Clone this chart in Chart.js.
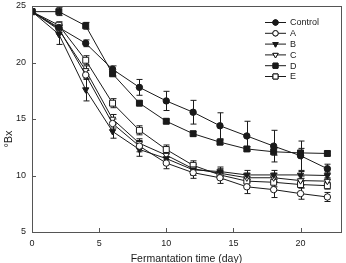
<!DOCTYPE html>
<html>
<head>
<meta charset="utf-8">
<script src="https://cdn.jsdelivr.net/npm/chart.js@4.4.0/dist/chart.umd.min.js"></script>
<style>
    html, body { margin: 0; padding: 0; background: #fff; }
    #wrap { width: 346px; height: 263px; }
</style>
</head>
<body>
<div id="wrap"><canvas id="brixChart" width="346" height="263"></canvas></div>
<script>
// Sampling days
const days = [0, 2, 4, 6, 8, 10, 12, 14, 16, 18, 20, 22];

// Mean °Bx per treatment
const control = [24.5, 23.1, 21.7, 19.4, 17.8, 16.6, 15.6, 14.4, 13.5, 12.6, 11.75, 10.6];
const seriesA = [24.5, 23.0, 18.9, 14.6, 12.6, 11.1, 10.25, 9.8, 9.0, 8.75, 8.4, 8.1];
const seriesB = [24.5, 22.5, 17.6, 13.9, 12.3, 11.5, 10.5, 10.35, 10.05, 10.05, 10.05, 10.0];
const seriesC = [24.5, 22.9, 19.3, 15.0, 12.85, 11.8, 10.6, 10.2, 9.8, 9.8, 9.55, 9.5];
const seriesD = [24.5, 24.5, 23.25, 19.0, 16.4, 14.8, 13.7, 12.95, 12.35, 12.1, 12.0, 11.95];
const seriesE = [24.5, 23.3, 20.2, 16.4, 14.0, 12.3, 10.9, 10.05, 9.5, 9.4, 9.2, 9.1];

// Error bar half-heights (± SD)
const controlErr = [0, 0.2, 0.3, 0.3, 0.7, 0.85, 1.05, 1.15, 1.3, 1.4, 1.3, 0.4];
const errA = [0, 0.3, 0.4, 0.4, 0.5, 0.5, 0.5, 0.5, 0.6, 0.7, 0.5, 0.4];
const errB = [0, 0.9, 1.0, 0.6, 0.6, 0.5, 0.5, 0.4, 0.4, 0.4, 0.3, 0.3];
const errC = [0, 0.4, 0.4, 0.4, 0.4, 0.4, 0.4, 0.4, 0.4, 0.4, 0.4, 0.3];
const errD = [0, 0.35, 0.3, 0.2, 0.2, 0.2, 0.2, 0.2, 0.2, 0.3, 0.4, 0.2];
const errE = [0, 0.3, 0.4, 0.4, 0.4, 0.4, 0.4, 0.4, 0.4, 0.4, 0.3, 0.3];

// Axis ticks
const xTicks = [0, 5, 10, 15, 20];
const yTicks = [5, 10, 15, 20, 25];

const INK = '#1a1a1a';
const FONT = '"Liberation Sans", Arial, sans-serif';

function makeSet(label, values, errors, style, filled, radius, rotation) {
    return {
        label,
        data: values.map((v, i) => ({ x: days[i], y: v })),
        errors,
        borderColor: INK,
        borderWidth: 1,
        pointStyle: style,
        pointRotation: rotation || 0,
        pointRadius: radius,
        pointBorderWidth: 1,
        pointBorderColor: INK,
        pointBackgroundColor: filled ? INK : '#fff',
        tension: 0,
        fill: false
    };
}

const datasets = [
    makeSet('Control', control, controlErr, 'circle', true, 3.2),
    makeSet('A', seriesA, errA, 'circle', false, 3.2),
    makeSet('B', seriesB, errB, 'triangle', true, 3.6, 180),
    makeSet('C', seriesC, errC, 'triangle', false, 3.6, 180),
    makeSet('D', seriesD, errD, 'rect', true, 4.2),
    makeSet('E', seriesE, errE, 'rect', false, 4.2)
];

// Error bars drawn behind the markers
const errorBars = {
    id: 'errorBars',
    beforeDatasetsDraw(chart) {
        const { ctx, scales: { x, y } } = chart;
        ctx.save();
        ctx.strokeStyle = INK;
        ctx.lineWidth = 1;
        chart.data.datasets.forEach(ds => {
            ds.data.forEach((p, i) => {
                const err = ds.errors[i];
                if (!err) return;
                const px = Math.round(x.getPixelForValue(p.x)) + 0.5;
                const top = y.getPixelForValue(p.y + err);
                const bot = y.getPixelForValue(p.y - err);
                ctx.beginPath();
                ctx.moveTo(px, top); ctx.lineTo(px, bot);
                ctx.moveTo(px - 3, top); ctx.lineTo(px + 3, top);
                ctx.moveTo(px - 3, bot); ctx.lineTo(px + 3, bot);
                ctx.stroke();
            });
        });
        ctx.restore();
    }
};

// Frame, inward ticks, y title and in-plot legend
const decorations = {
    id: 'decorations',
    afterDraw(chart) {
        const { ctx, chartArea: a, scales: { x, y } } = chart;
        ctx.save();
        ctx.strokeStyle = '#555';
        ctx.lineWidth = 1;
        ctx.strokeRect(Math.round(a.left) + 0.5, Math.round(a.top) + 0.5,
            Math.round(a.right - a.left), Math.round(a.bottom - a.top));

        ctx.beginPath();
        xTicks.forEach(v => {
            const px = Math.round(x.getPixelForValue(v)) + 0.5;
            ctx.moveTo(px, a.bottom); ctx.lineTo(px, a.bottom - 4);
        });
        yTicks.forEach(v => {
            const py = Math.round(y.getPixelForValue(v)) + 0.5;
            ctx.moveTo(a.left, py); ctx.lineTo(a.left + 4, py);
        });
        ctx.stroke();

        // Y title sits a bit below centre in the original
        ctx.fillStyle = INK;
        ctx.font = '11px ' + FONT;
        ctx.translate(9, 139);
        ctx.rotate(-Math.PI / 2);
        ctx.textAlign = 'center';
        ctx.textBaseline = 'middle';
        ctx.fillText('°Bx', 0, 0);
        ctx.setTransform(1, 0, 0, 1, 0, 0);

        // Legend
        ctx.font = '9px ' + FONT;
        ctx.textAlign = 'left';
        chart.data.datasets.forEach((ds, i) => {
            const ly = 22.5 + i * 10.8;
            ctx.strokeStyle = INK;
            ctx.beginPath();
            ctx.moveTo(265, ly); ctx.lineTo(286, ly);
            ctx.stroke();
            Chart.helpers.drawPoint(ctx, {
                pointStyle: ds.pointStyle,
                rotation: ds.pointRotation,
                radius: ds.pointRadius * 0.85,
                borderWidth: 1
            }, 275.5, ly);
            ctx.fillStyle = ds.pointBackgroundColor;
            ctx.strokeStyle = INK;
            ctx.fill();
            ctx.stroke();
            ctx.fillStyle = INK;
            ctx.fillText(ds.label, 290, ly + 0.5);
        });
        ctx.restore();
    }
};

new Chart(document.getElementById('brixChart'), {
    type: 'line',
    data: { datasets },
    options: {
        responsive: false,
        devicePixelRatio: 1,
        animation: false,
        layout: { padding: { left: 0, right: 2, top: 6, bottom: 0 } },
        plugins: {
            legend: { display: false },
            tooltip: { enabled: false }
        },
        scales: {
            x: {
                type: 'linear',
                min: 0,
                max: 23,
                afterBuildTicks: scale => { scale.ticks = xTicks.map(v => ({ value: v })); },
                afterFit: scale => { scale.height = 31; scale.paddingLeft = 0; scale.paddingRight = 0; },
                grid: { display: false, drawTicks: false },
                border: { display: false },
                ticks: { color: INK, font: { family: FONT, size: 9 }, padding: 6, maxRotation: 0 },
                title: {
                    display: true,
                    text: 'Fermantation time (day)',
                    color: INK,
                    font: { family: FONT, size: 10.5 },
                    padding: { top: 0, bottom: -2 }
                }
            },
            y: {
                min: 5,
                max: 25,
                afterBuildTicks: scale => { scale.ticks = yTicks.map(v => ({ value: v })); },
                afterFit: scale => { scale.width = 32; scale.paddingTop = 0; scale.paddingBottom = 0; },
                grid: { display: false, drawTicks: false },
                border: { display: false },
                ticks: { color: INK, font: { family: FONT, size: 9 }, padding: 6 }
            }
        }
    },
    plugins: [errorBars, decorations]
});
</script>
</body>
</html>
